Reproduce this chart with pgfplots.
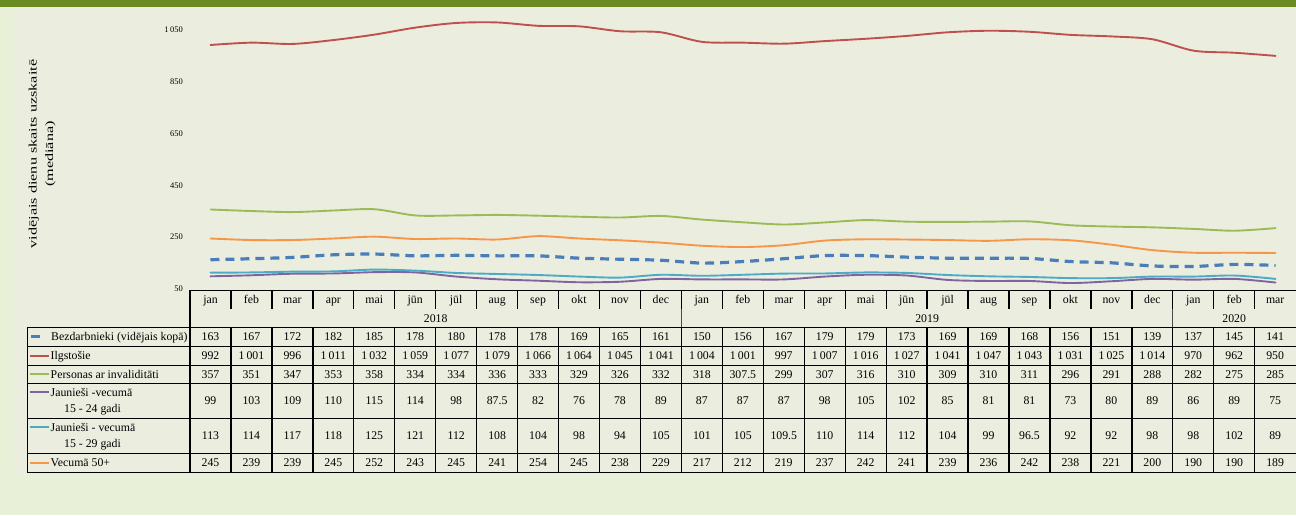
\documentclass[border=0pt]{standalone}
\usepackage{pgfplots}
\usepackage{pgfplotstable}
\pgfplotsset{compat=1.18}
\usepackage{fontspec}
\setmainfont{Liberation Serif}
\definecolor{band}{HTML}{6A8A22}
\definecolor{outerbg}{HTML}{E8F1D7}
\definecolor{innerbg}{HTML}{EBEEDF}
\definecolor{cblue}{HTML}{4A7EBB}
\definecolor{cred}{HTML}{C0504D}
\definecolor{cgreen}{HTML}{9BBB59}
\definecolor{cpurple}{HTML}{8064A2}
\definecolor{ccyan}{HTML}{4BACC6}
\definecolor{corange}{HTML}{F79646}
\newcommand\tbl{\fontsize{11.8}{13}\selectfont}
\newcommand\ts{\hspace{0.18em}}
\def\colw{40.95}
\newcommand\rowvals[2]{\foreach \v [count=\i] in {#2} \node[font=\tbl,inner sep=0pt,anchor=base] at ({190+(\i-0.5)*\colw},{-#1-4}) {\v};}

\pgfplotstableread{
x bez ilg inv j24 j29 v50
1 163 992 357 99 113 245
2 167 1001 351 103 114 239
3 172 996 347 109 117 239
4 182 1011 353 110 118 245
5 185 1032 358 115 125 252
6 178 1059 334 114 121 243
7 180 1077 334 98 112 245
8 178 1079 336 87.5 108 241
9 178 1066 333 82 104 254
10 169 1064 329 76 98 245
11 165 1045 326 78 94 238
12 161 1041 332 89 105 229
13 150 1004 318 87 101 217
14 156 1001 307.5 87 105 212
15 167 997 299 87 109.5 219
16 179 1007 307 98 110 237
17 179 1016 316 105 114 242
18 173 1027 310 102 112 241
19 169 1041 309 85 104 239
20 169 1047 310 81 99 236
21 168 1043 311 81 96.5 242
22 156 1031 296 73 92 238
23 151 1025 291 80 92 221
24 139 1014 288 89 98 200
25 137 970 282 86 98 190
26 145 962 275 89 102 190
27 141 950 285 75 89 189
}\datatable

\begin{document}
\begin{tikzpicture}[x=1pt,y=1pt]
\fill[outerbg] (0,0) rectangle (1296,-515);
\fill[innerbg] (14,-7) rectangle (1296,-476);
\fill[band] (0,0) rectangle (1296,-7);

% y axis title
\node[font=\fontsize{11.4}{16.5}\selectfont] at (41.5,-154) {\rotatebox{90}{\scalebox{1.42}[1]{\begin{tabular}{@{}c@{}}vidējais dienu skaits uzskaitē\\(mediāna)\end{tabular}}}};

\coordinate (AXO) at (190,-289);
\begin{axis}[at={(AXO)}, anchor=south west, scale only axis,
  width=1106pt, height=272pt, xmin=0.5, xmax=27.5, ymin=50, ymax=1100,
  axis line style={draw=none}, tick style={draw=none},
  xtick=\empty, ytick={50,250,450,650,850,1050},
  yticklabels={50,250,450,650,850,{1\ts050}},
  yticklabel style={font=\fontsize{8.5}{9}\selectfont, anchor=east, inner sep=0pt, xshift=-7pt},
  clip=false, line join=round, line cap=round]
\addplot[cpurple, line width=1.9pt, smooth] table[x=x,y=j24] {\datatable};
\addplot[ccyan, line width=1.9pt, smooth] table[x=x,y=j29] {\datatable};
\addplot[cblue, line width=3.2pt, smooth, line cap=butt, dash pattern=on 9pt off 6pt] table[x=x,y=bez] {\datatable};
\addplot[corange, line width=1.9pt, smooth] table[x=x,y=v50] {\datatable};
\addplot[cgreen, line width=1.9pt, smooth] table[x=x,y=inv] {\datatable};
\addplot[cred, line width=1.9pt, smooth] table[x=x,y=ilg] {\datatable};
\end{axis}

% table grid
\begin{scope}[line width=1pt, black]
\draw (190,-290) -- (1296,-290);
\foreach \yy in {327,346,365,383,418,453,472} \draw (27,-\yy) -- (1296,-\yy);
\draw (27,-327) -- (27,-472);
\draw[line width=1.3pt] (190,-290) -- (190,-472);
\foreach \k in {1,...,26} {
  \draw[line width=1.3pt] ({190+\k*\colw},-290) -- ({190+\k*\colw},-309);
  \draw[line width=1.3pt] ({190+\k*\colw},-327) -- ({190+\k*\colw},-472);
}
\foreach \k in {12,24} \draw[line width=0.8pt, black!70] ({190+\k*\colw},-309) -- ({190+\k*\colw},-327);
\end{scope}

% months and years
\foreach \m [count=\i] in {jan,feb,mar,apr,mai,jūn,jūl,aug,sep,okt,nov,dec,jan,feb,mar,apr,mai,jūn,jūl,aug,sep,okt,nov,dec,jan,feb,mar}
  \node[font=\tbl,inner sep=0pt,anchor=base] at ({190+(\i-0.5)*\colw},-303) {\m};
\node[font=\tbl,inner sep=0pt,anchor=base] at ({190+6*\colw},-322) {2018};
\node[font=\tbl,inner sep=0pt,anchor=base] at ({190+18*\colw},-322) {2019};
\node[font=\tbl,inner sep=0pt,anchor=base] at ({190+25.5*\colw},-322) {2020};

% row labels with legend keys
\draw[cblue, line width=3pt] (31,-336.5) -- (40,-336.5);
\node[font=\tbl, anchor=base west, inner sep=0pt] at (51,-340.5) {Bezdarbnieki (vidējais kopā)};
\draw[cred, line width=2pt] (30,-355.5) -- (49,-355.5);
\node[font=\tbl, anchor=base west, inner sep=0pt] at (50.5,-359.5) {Ilgstošie};
\draw[cgreen, line width=2pt] (30,-374) -- (49,-374);
\node[font=\tbl, anchor=base west, inner sep=0pt] at (50.5,-378) {Personas ar invaliditāti};
\draw[cpurple, line width=2pt] (30,-392) -- (49,-392);
\node[font=\tbl, anchor=base west, inner sep=0pt] at (50.5,-396) {Jaunieši -vecumā};
\node[font=\tbl, anchor=base west, inner sep=0pt] at (64,-412) {15 - 24 gadi};
\draw[ccyan, line width=2pt] (30,-427) -- (49,-427);
\node[font=\tbl, anchor=base west, inner sep=0pt] at (50.5,-431) {Jaunieši - vecumā};
\node[font=\tbl, anchor=base west, inner sep=0pt] at (64,-447) {15 - 29 gadi};
\draw[corange, line width=2pt] (30,-462.5) -- (49,-462.5);
\node[font=\tbl, anchor=base west, inner sep=0pt] at (50.5,-466.5) {Vecumā 50+};

% values
\rowvals{336.5}{163,167,172,182,185,178,180,178,178,169,165,161,150,156,167,179,179,173,169,169,168,156,151,139,137,145,141}
\rowvals{355.5}{992,1\ts001,996,1\ts011,1\ts032,1\ts059,1\ts077,1\ts079,1\ts066,1\ts064,1\ts045,1\ts041,1\ts004,1\ts001,997,1\ts007,1\ts016,1\ts027,1\ts041,1\ts047,1\ts043,1\ts031,1\ts025,1\ts014,970,962,950}
\rowvals{374}{357,351,347,353,358,334,334,336,333,329,326,332,318,307.5,299,307,316,310,309,310,311,296,291,288,282,275,285}
\rowvals{400.5}{99,103,109,110,115,114,98,87.5,82,76,78,89,87,87,87,98,105,102,85,81,81,73,80,89,86,89,75}
\rowvals{435.5}{113,114,117,118,125,121,112,108,104,98,94,105,101,105,109.5,110,114,112,104,99,96.5,92,92,98,98,102,89}
\rowvals{462.5}{245,239,239,245,252,243,245,241,254,245,238,229,217,212,219,237,242,241,239,236,242,238,221,200,190,190,189}

\pgfresetboundingbox
\useasboundingbox (0,0) rectangle (1296,-515);
\end{tikzpicture}
\end{document}
